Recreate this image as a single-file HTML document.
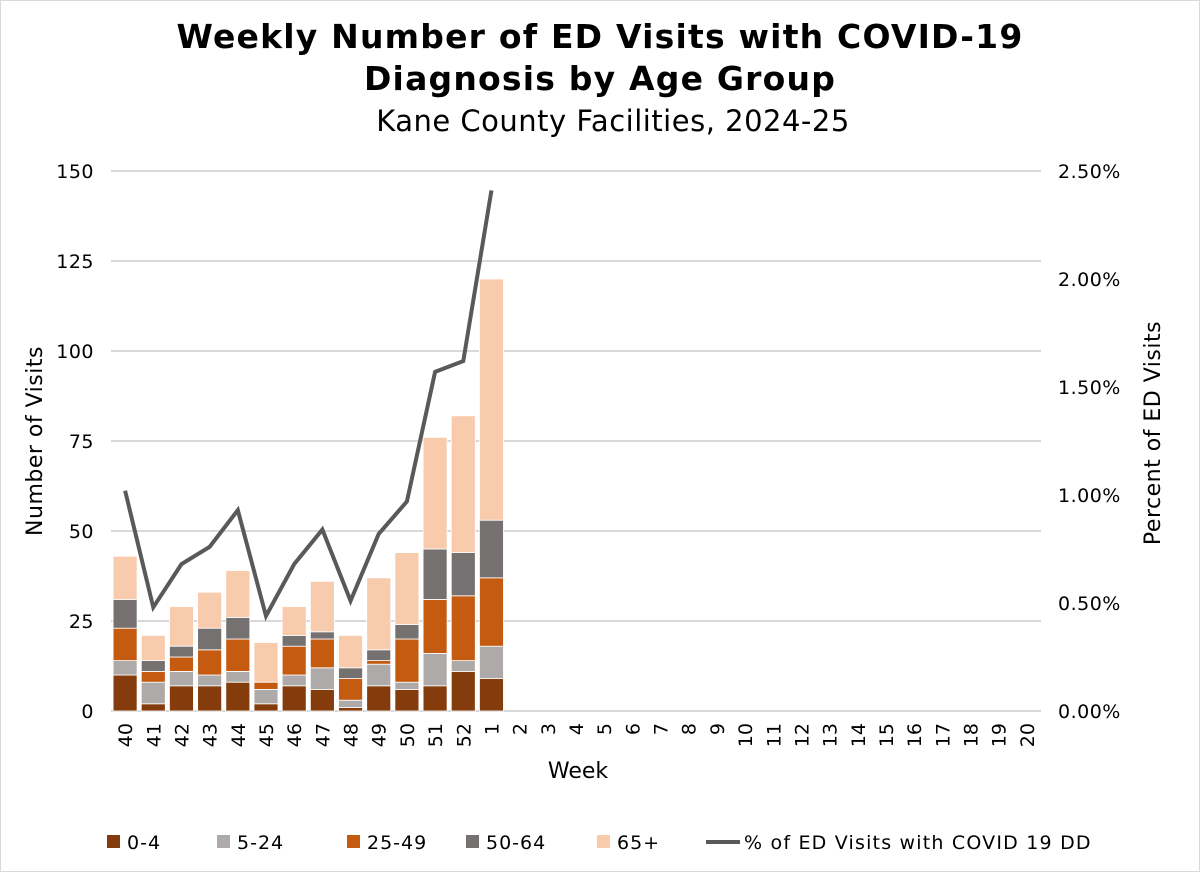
<!DOCTYPE html>
<html><head><meta charset="utf-8"><style>
body{margin:0;background:#fff;}
svg{display:block;font-family:"DejaVu Sans","Liberation Sans",sans-serif;}
</style></head><body>
<svg id="c" width="1200" height="872">
<rect x="0.5" y="0.5" width="1199" height="871" fill="#fff" stroke="#d9d9d9"/>
<text x="600" y="48" text-anchor="middle" font-size="33" font-weight="bold" letter-spacing="1.2">Weekly Number of ED Visits with COVID-19</text>
<text x="600" y="90" text-anchor="middle" font-size="33" font-weight="bold" letter-spacing="1.2">Diagnosis by Age Group</text>
<text x="613" y="131" text-anchor="middle" font-size="29" letter-spacing="0.5">Kane County Facilities, 2024-25</text>
<g id="grid"></g><g id="bars"></g><g id="line"></g><g id="axes"></g>
<text transform="translate(42,441) rotate(-90)" text-anchor="middle" font-size="22" letter-spacing="0.5">Number of Visits</text>
<text transform="translate(1160,433) rotate(-90)" text-anchor="middle" font-size="22" letter-spacing="0.5">Percent of ED Visits</text>
<text x="578" y="778" text-anchor="middle" font-size="22">Week</text>
<g id="legend"></g>
</svg>
<script>
const weeks=["40","41","42","43","44","45","46","47","48","49","50","51","52","1","2","3","4","5","6","7","8","9","10","11","12","13","14","15","16","17","18","19","20"];
const age0_4=[10,2,7,7,8,2,7,6,1,7,6,7,11,9];
const age5_24=[4,6,4,3,3,4,3,6,2,6,2,9,3,9];
const age25_49=[9,3,4,7,9,2,8,8,6,1,12,15,18,19];
const age50_64=[8,3,3,6,6,0,3,2,3,3,4,14,12,16];
const age65=[12,7,11,10,13,11,8,14,9,20,20,31,38,67];
const pct=[1.02,0.48,0.68,0.76,0.93,0.44,0.68,0.84,0.51,0.82,0.97,1.57,1.62,2.41];
const yTicks=[0,25,50,75,100,125,150];
const y2Ticks=[0,0.5,1,1.5,2,2.5];
const series=[["0-4",age0_4,"#843c0c"],["5-24",age5_24,"#aeaaaa"],["25-49",age25_49,"#c55a11"],["50-64",age50_64,"#767171"],["65+",age65,"#f8cbad"]];
const L=111,R=1041,T=171,B=711,NS="http://www.w3.org/2000/svg";
const bw=(R-L)/weeks.length;
const y=v=>B-(v/150)*(B-T), y2=v=>B-(v/2.5)*(B-T), xc=i=>L+bw*(i+0.5);
function mk(p,t,a){const e=document.createElementNS(NS,t);for(const k in a)e.setAttribute(k,a[k]);document.getElementById(p).appendChild(e);return e;}
yTicks.forEach(v=>{
 const g=mk("grid","line",{x1:L,x2:R,y1:y(v),y2:y(v),stroke:"#d9d9d9","stroke-width":2});
 
 
 const t=mk("axes","text",{x:94,y:y(v)+7,"text-anchor":"end","font-size":19,"letter-spacing":0.5});t.textContent=v;
 
 
});
y2Ticks.forEach(v=>{
 const t=mk("axes","text",{x:1058,y:y2(v)+7,"font-size":19,"letter-spacing":0.5});t.textContent=v.toFixed(2)+"%";
 
 
});
weeks.forEach((w,i)=>{
 const t=mk("axes","text",{transform:`translate(${xc(i)+7},${B+12}) rotate(-90)`,"text-anchor":"end","font-size":19});t.textContent=w;
 
 
});
age0_4.forEach((_,i)=>{
 let cum=0;
 series.forEach(([n,arr,c])=>{
  const v=arr[i]; if(!v)return;
  const r=mk("bars","rect",{x:xc(i)-12,width:24,y:y(cum+v),height:y(cum)-y(cum+v),fill:c,stroke:"#fff","stroke-width":0.8});
  
  
  cum+=v;
 });
});
const pl=mk("line","polyline",{points:pct.map((p,i)=>xc(i)+","+y2(p)).join(" "),fill:"none",stroke:"#595959","stroke-width":4,"stroke-linejoin":"miter"});


const leg=[[107,"0-4","#843c0c"],[217,"5-24","#aeaaaa"],[347,"25-49","#c55a11"],[466,"50-64","#767171"],[597,"65+","#f8cbad"]];
leg.forEach(([x,n,c])=>{
 const r=mk("legend","rect",{x:x,y:835,width:13,height:13,fill:c});
 
 
 const t=mk("legend","text",{x:x+20,y:849,"font-size":19,"letter-spacing":1});t.textContent=n;
 
 
});
const ll=mk("legend","line",{x1:706,x2:740,y1:842,y2:842,stroke:"#595959","stroke-width":4});


const lt=mk("legend","text",{x:744,y:849,"font-size":19,"letter-spacing":1.2});lt.textContent="% of ED Visits with COVID 19 DD";


</script>
</body></html>
